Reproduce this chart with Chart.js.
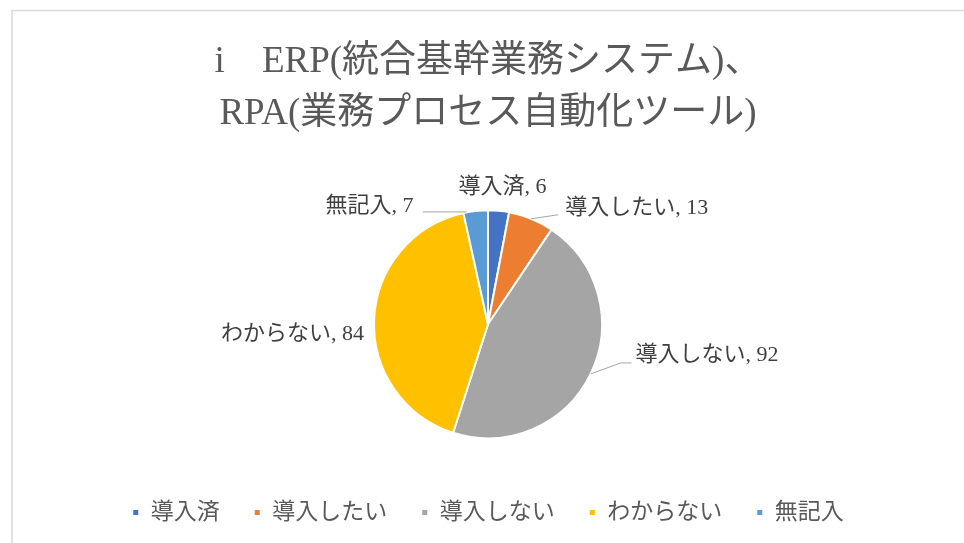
<!DOCTYPE html>
<html>
<head>
<meta charset="utf-8">
<script src="https://cdn.jsdelivr.net/npm/chart.js@4.4.0/dist/chart.umd.min.js"></script>
<style>
  html, body { margin: 0; padding: 0; background: #fff; }
</style>
</head>
<body>
<canvas id="chart" width="964" height="543"></canvas>
<script>
// データ
const categories = ['導入済', '導入したい', '導入しない', 'わからない', '無記入'];
const counts = [6, 13, 92, 84, 7];
const titleLines = ['i\u3000ERP(統合基幹業務システム)、', 'RPA(業務プロセス自動化ツール)'];

const sliceColors = ['#4472C4', '#ED7D31', '#A5A5A5', '#FFC000', '#5B9BD5'];
const FONT = "'Liberation Serif', 'Noto Sans CJK JP', serif";

// ラベル位置（扇形の外周・中心角の点からの相対位置）
const labelPlace = [
    { text: [4, -24], align: 'center' },
    { text: [34, -11], align: 'left', line: [[0, 0], [27, -4]] },
    { text: [45, -19], align: 'left', line: [[0, 0], [30, -11], [41, -11]] },
    { text: [-10, 15], align: 'right' },
    { text: [-62, -5], align: 'right', line: [[-9, 1], [-53, 1]] }
];

// 外枠
const framePlugin = {
    id: 'frame',
    beforeDraw(chart) {
        const ctx = chart.ctx;
        ctx.save();
        ctx.fillStyle = '#fff';
        ctx.fillRect(0, 0, chart.width, chart.height);
        ctx.strokeStyle = '#d9d9d9';
        ctx.lineWidth = 1.5;
        ctx.beginPath();
        ctx.moveTo(12, chart.height);
        ctx.lineTo(12, 10.5);
        ctx.lineTo(chart.width, 10.5);
        ctx.stroke();
        ctx.restore();
    }
};

// データラベル + 引き出し線
const pieLabels = {
    id: 'pieLabels',
    afterDatasetsDraw(chart) {
        const ctx = chart.ctx;
        const meta = chart.getDatasetMeta(0);
        ctx.save();
        ctx.font = '22px ' + FONT;
        ctx.fillStyle = '#404040';
        ctx.textBaseline = 'middle';
        meta.data.forEach((arc, i) => {
            const p = arc.getProps(['x', 'y', 'startAngle', 'endAngle', 'outerRadius'], true);
            const mid = (p.startAngle + p.endAngle) / 2;
            const ex = p.x + Math.cos(mid) * p.outerRadius;
            const ey = p.y + Math.sin(mid) * p.outerRadius;
            const pl = labelPlace[i];
            if (pl.line) {
                ctx.strokeStyle = '#a6a6a6';
                ctx.lineWidth = 1;
                ctx.beginPath();
                pl.line.forEach((pt, k) => {
                    if (k === 0) ctx.moveTo(ex + pt[0], ey + pt[1]);
                    else ctx.lineTo(ex + pt[0], ey + pt[1]);
                });
                ctx.stroke();
            }
            ctx.textAlign = pl.align;
            ctx.fillText(categories[i] + ', ' + counts[i], ex + pl.text[0], ey + pl.text[1]);
        });
        ctx.restore();
    }
};

new Chart(document.getElementById('chart'), {
    type: 'pie',
    data: {
        labels: categories,
        datasets: [{
            data: counts,
            backgroundColor: sliceColors,
            borderColor: '#ffffff',
            borderWidth: 2,
            radius: 114
        }]
    },
    options: {
        responsive: false,
        animation: false,
        layout: { padding: { top: 0, left: 12, right: 0, bottom: 9 } },
        plugins: {
            title: {
                display: true,
                text: titleLines,
                color: '#595959',
                font: { family: FONT, size: 37, weight: 'normal', lineHeight: 52 / 37 },
                padding: { top: 36, bottom: 41.5 }
            },
            legend: {
                position: 'bottom',
                labels: {
                    boxWidth: 7,
                    boxHeight: 7,
                    padding: 34,
                    color: '#595959',
                    font: { family: FONT, size: 23 }
                }
            },
            tooltip: { enabled: false }
        }
    },
    plugins: [framePlugin, pieLabels]
});
</script>
</body>
</html>
